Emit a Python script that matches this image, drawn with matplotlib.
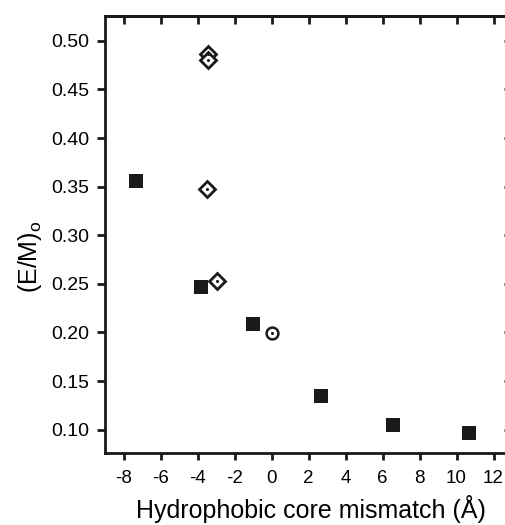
import matplotlib.pyplot as plt

plt.rcParams['font.family'] = ['Liberation Sans', 'DejaVu Sans']

# Filled squares
sq_x = [-7.32, -3.81, -1.01, 2.68, 6.56, 10.66]
sq_y = [0.3555, 0.247, 0.209, 0.1346, 0.105, 0.097]

# Open diamonds with a centre dot
dia_x = [-3.45, -3.45, -3.5, -2.94]
dia_y = [0.486, 0.480, 0.348, 0.2527]

# Open circle with a centre dot
circ_x = [0.0]
circ_y = [0.199]

xticks = [-8, -6, -4, -2, 0, 2, 4, 6, 8, 10, 12]
yticks = [0.10, 0.15, 0.20, 0.25, 0.30, 0.35, 0.40, 0.45, 0.50]

fig = plt.figure(figsize=(5.05, 5.25), dpi=100)
ax = fig.add_axes([105 / 505, 1 - 453 / 525, (512 - 105) / 505, (453 - 16) / 525])

ax.plot(sq_x, sq_y, 's', color='#1a1a1a', markersize=10, markeredgewidth=0)
ax.plot(dia_x, dia_y, 'D', markerfacecolor='white', markeredgecolor='#1a1a1a',
        markersize=8, markeredgewidth=2)
ax.plot(dia_x, dia_y, '.', color='#1a1a1a', markersize=2.5)
ax.plot(circ_x, circ_y, 'o', markerfacecolor='white', markeredgecolor='#1a1a1a',
        markersize=8.5, markeredgewidth=1.8)
ax.plot(circ_x, circ_y, '.', color='#1a1a1a', markersize=2.5)

ax.set_xlim(-9.0, 13.0)
ax.set_ylim(0.076, 0.5255)

for s in ax.spines.values():
    s.set_linewidth(2)
    s.set_color('#1a1a1a')

ax.set_xticks(xticks)
ax.set_xticklabels([str(t) for t in xticks])
ax.set_yticks(yticks)
ax.set_yticklabels(['%.2f' % t for t in yticks])

ax.tick_params(axis='x', bottom=True, top=False, direction='out', length=5,
               width=2, labelsize=13.5, pad=7, color='#1a1a1a')
sec = ax.secondary_xaxis('top')
sec.set_xticks(xticks, labels=[])
sec.tick_params(direction='in', length=6, width=2, color='#1a1a1a')
sec.spines['top'].set_linewidth(2)

ax.tick_params(axis='y', left=True, right=False, direction='out', length=6,
               width=2, labelsize=14, pad=5, color='#1a1a1a')
sey = ax.secondary_yaxis('right')
sey.set_yticks(yticks, labels=[])
sey.tick_params(direction='in', length=6, width=2, color='#1a1a1a')

ax.set_xlabel('Hydrophobic core mismatch (Å)', fontsize=18)
ax.xaxis.label.set_va('center')
ax.xaxis.set_label_coords(0.505, -0.128)
ax.set_ylabel(r'(E/M)$_{\mathregular{o}}$', fontsize=18)
ax.yaxis.label.set_va('center')
ax.yaxis.set_label_coords(-0.184, 0.45)

fig.savefig('out.png', dpi=100)
